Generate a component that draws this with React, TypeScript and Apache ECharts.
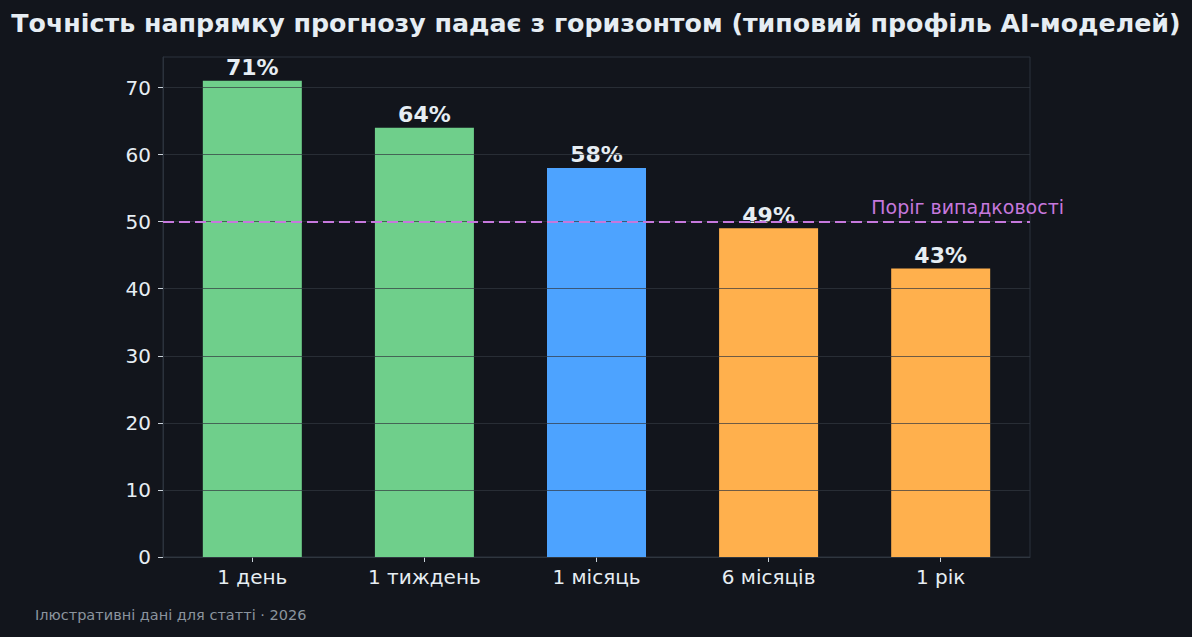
import React, { useEffect, useRef } from "react";
import * as echarts from "echarts";

const TITLE = "Точність напрямку прогнозу падає з горизонтом (типовий профіль AI-моделей)";
const FOOTER = "Ілюстративні дані для статті · 2026";
const THRESHOLD_LABEL = "Поріг випадковості";
const categories = ["1 день", "1 тиждень", "1 місяць", "6 місяців", "1 рік"];
const accuracy = [71, 64, 58, 49, 43];
const barColors = ["#6fcf8b", "#6fcf8b", "#4da3ff", "#ffb04d", "#ffb04d"];
const threshold = 50;
const yTicks = [0, 10, 20, 30, 40, 50, 60, 70];
const xTicks = [0, 1, 2, 3, 4];
const yMax = 74.55;
const xMin = -0.519;
const xMax = 4.519;

export default function App() {
  const ref = useRef<HTMLDivElement>(null);
  useEffect(() => {
    if (!ref.current) return;
    const chart = echarts.init(ref.current, undefined, { renderer: "svg" });
    const font = "DejaVu Sans";
    chart.setOption({
      animation: false,
      backgroundColor: "#12151c",
      textStyle: { fontFamily: font },
      title: {
        text: TITLE,
        left: "center",
        top: 6,
        textStyle: { color: "#e6edf3", fontSize: 25.3, fontWeight: "bold", fontFamily: font },
      },
      grid: {
        left: 163,
        right: 162,
        top: 57,
        bottom: 80,
        show: true,
        borderColor: "#2b323c",
        borderWidth: 1,
        backgroundColor: "transparent",
      },
      xAxis: {
        type: "value",
        min: xMin,
        max: xMax,
        axisLine: { show: true, onZero: false, lineStyle: { color: "#2b323c", width: 1 } },
        axisTick: { show: true, length: 5, customValues: xTicks, lineStyle: { color: "#c9d1d9" } },
        axisLabel: {
          color: "#e6edf3",
          fontSize: 20,
          margin: 10,
          customValues: xTicks,
          fontFamily: font,
          formatter: (v: number) => categories[Math.round(v)] ?? "",
        },
        splitLine: { show: false },
      },
      yAxis: {
        type: "value",
        min: 0,
        max: yMax,
        interval: 10,
        z: 3,
        axisLine: { show: true, onZero: false, lineStyle: { color: "#2b323c", width: 1 } },
        axisTick: { show: true, length: 5, customValues: yTicks, lineStyle: { color: "#c9d1d9" } },
        axisLabel: { color: "#e6edf3", fontSize: 20, margin: 12, customValues: yTicks, fontFamily: font },
        splitLine: { show: true, lineStyle: { color: "rgba(50,56,64,0.7)", width: 1 } },
      },
      series: [
        {
          type: "bar",
          data: accuracy.map((v, i) => ({ value: [i, v], itemStyle: { color: barColors[i] } })),
          barWidth: 99,
          z: 2,
          label: {
            show: true,
            position: "top",
            distance: 2,
            formatter: (p: any) => `${p.value[1]}%`,
            color: "#e6edf3",
            fontSize: 22,
            fontWeight: "bold",
            fontFamily: font,
          },
        },
        {
          type: "line",
          data: [],
          markLine: {
            silent: true,
            symbol: "none",
            z: 5,
            label: { show: false },
            lineStyle: { color: "#c678dd", type: [11, 5], width: 2 },
            data: [{ yAxis: threshold }],
          },
        },
      ],
      graphic: [
        {
          type: "text",
          right: 128,
          top: 197,
          style: { text: THRESHOLD_LABEL, fill: "#c678dd", fontSize: 19, fontFamily: font },
        },
        {
          type: "text",
          left: 35,
          top: 607,
          style: { text: FOOTER, fill: "#8b949e", fontSize: 14.5, fontFamily: font },
        },
      ],
    });
    return () => chart.dispose();
  }, []);
  return (
    <div
      ref={ref}
      style={{ position: "fixed", left: 0, top: 0, width: 1192, height: 637 }}
    />
  );
}
